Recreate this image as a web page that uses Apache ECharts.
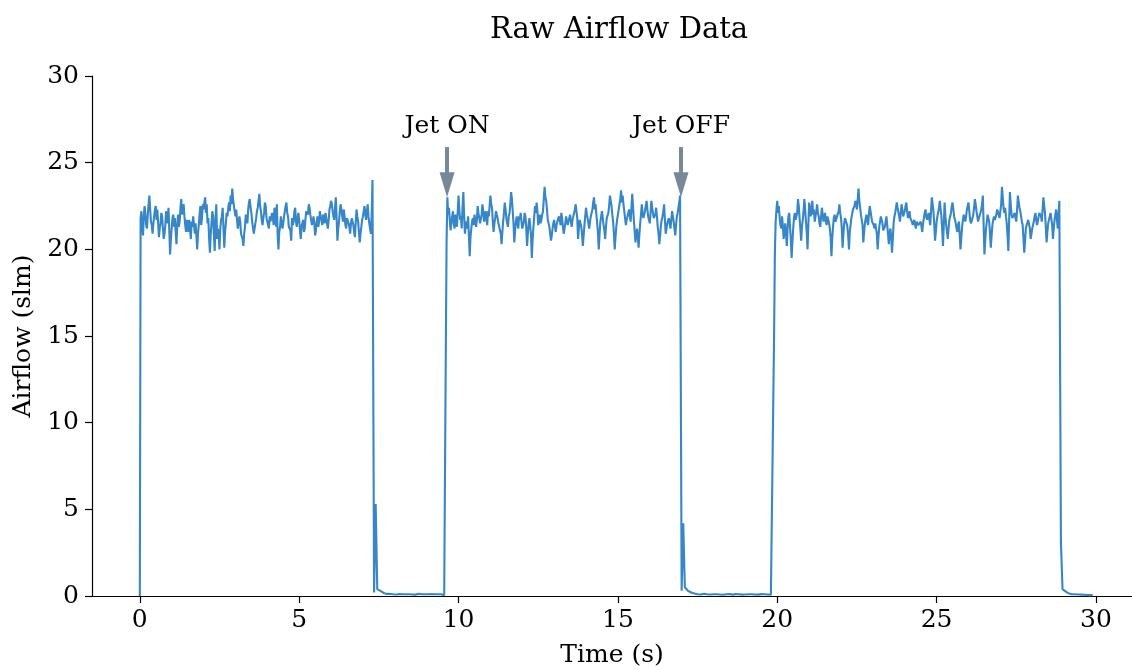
<!DOCTYPE html>
<html>
<head>
<meta charset="utf-8">
<title>Raw Airflow Data</title>
<script src="https://cdn.jsdelivr.net/npm/echarts@6.0.0/dist/echarts.min.js"></script>
<style>
  html, body { margin: 0; padding: 0; background: #fff; }
  #chart { width: 1132px; height: 670px; }
</style>
</head>
<body>
<div id="chart"></div>
<script>
// logger spacing (s); the *Mid arrays hold the readings that fall half a step later
const sampleStep = 0.05;

// start time (s) of each stretch of samples
const segmentStarts = [0, 7.35, 9.6, 17.0, 19.9, 28.9];

// jet ON #1 (starts at 0 s)
const jetOn1 = [
  0, 22.2, 20.8, 22.5, 21.4, 22.0, 23.1, 21.6, 20.9, 21.9,
  22.5, 22.3, 20.7, 21.5, 21.9, 20.6, 21.4, 21.8, 22.4, 19.7,
  21.2, 22.0, 21.8, 20.3, 22.0, 21.6, 22.9, 22.4, 21.9, 21.0,
  21.5, 21.7, 20.6, 21.3, 21.8, 21.5, 20.0, 21.4, 22.5, 21.8,
  22.3, 23.0, 22.6, 21.8, 19.8, 21.5, 21.9, 19.9, 22.6, 21.2,
  20.0, 21.7, 22.4, 20.1, 21.5, 21.9, 22.7, 23.1, 23.5, 22.8,
  21.9, 21.7, 21.1, 21.6, 21.0, 20.2, 21.3, 21.8, 22.3, 22.9,
  22.1, 21.5, 21.0, 21.8, 22.4, 23.2, 22.2, 21.4, 22.1, 22.5,
  21.9, 21.2, 21.6, 22.1, 21.4, 22.0, 22.6, 20.0, 21.3, 21.8,
  21.5, 22.2, 22.7, 21.9, 21.2, 20.5, 21.4, 22.2, 21.6, 21.8,
  21.7, 20.6, 21.5, 21.0, 21.8, 22.3, 22.6, 22.0, 21.4, 21.9,
  20.8, 21.6, 21.3, 22.2, 21.7, 22.0, 21.5, 21.8, 21.2, 22.3,
  22.8, 22.2, 21.7, 23.0, 20.5, 21.6, 22.6, 21.9, 22.3, 21.4,
  21.8, 21.5, 20.9, 21.8, 21.4, 20.7, 22.3, 21.6, 20.4, 21.3,
  21.9, 22.5, 21.7, 22.6, 21.5, 20.9, 24.0
];
const jetOn1Mid = [
  21.8, 21.3, 21.9, 22.0, 21.2, 22.6, 22.3, 21.4, 21.5, 22.3,
  21.7, 21.5, 21.2, 22.1, 21.2, 20.9, 22.2, 21.5, 21.1, 20.6,
  21.8, 21.3, 21.0, 21.4, 21.3, 22.4, 22.0, 22.6, 21.4, 21.7,
  21.0, 21.2, 21.6, 21.9, 20.9, 20.8, 20.9, 22.0, 21.4, 22.6,
  22.7, 22.1, 21.5, 20.6, 20.9, 22.2, 20.8, 21.8, 20.6, 20.8,
  21.2, 21.9, 21.2, 21.0, 22.1, 22.4, 22.2, 22.6, 22.9, 22.2,
  22.3, 21.2, 21.9, 20.9, 20.6, 20.9, 22.0, 21.5, 22.7, 22.4,
  21.6, 20.9, 21.5, 22.2, 22.8, 22.5, 21.7, 21.8, 22.7, 21.8,
  21.4, 21.9, 21.6, 21.8, 22.4, 21.3, 20.8, 21.0, 21.9, 21.2,
  21.9, 22.5, 22.1, 21.3, 21.1, 21.8, 21.6, 22.4, 21.3, 22.1,
  21.1, 21.3, 21.7, 21.2, 22.2, 22.0, 22.4, 21.7, 21.3, 21.5,
  21.1, 21.9, 21.6, 21.9, 21.4, 21.8, 22.1, 21.5, 21.7, 22.5,
  22.6, 21.9, 22.4, 21.8, 21.2, 22.2, 22.3, 21.6, 21.9, 21.2,
  21.9, 21.3, 21.5, 21.9, 21.0, 21.6, 21.9, 21.0, 20.9, 21.7,
  22.2, 22.0, 22.2, 21.9, 21.2, 22.0
];

// jet OFF #1
const jetOff1 = [
  0.2, 5.3, 0.4, 0.35, 0.3, 0.22, 0.18, 0.15, 0.12, 0.1,
  0.12, 0.08, 0.1, 0.14, 0.09, 0.1, 0.12, 0.08, 0.1, 0.13,
  0.1, 0.07, 0.1, 0.12, 0.09, 0.1, 0.08, 0.11, 0.13, 0.09,
  0.1, 0.08, 0.1, 0.12, 0.1, 0.09, 0.11, 0.08, 0.1, 0.12,
  0.1, 0.09, 0.1, 0.08, 0.05
];

// jet ON #2
const jetOn2 = [
  14.0, 23.0, 22.4, 21.1, 21.9, 21.5, 22.0, 21.3, 23.1, 21.7,
  21.2, 23.3, 20.9, 21.6, 21.9, 19.6, 21.2, 21.8, 22.0, 21.3,
  22.5, 21.8, 21.4, 22.6, 21.6, 22.2, 21.4, 21.9, 23.1, 22.4,
  21.0, 21.8, 22.3, 21.5, 21.1, 20.3, 21.6, 22.7, 21.8, 21.3,
  22.1, 23.3, 22.8, 20.4, 21.6, 21.5, 21.9, 22.1, 21.2, 21.6,
  21.9, 20.2, 21.5, 21.9, 19.5, 21.3, 22.5, 22.7, 21.4, 22.0,
  21.7, 22.2, 23.6, 22.8, 21.7, 21.3, 20.5, 21.2, 21.7, 21.0,
  21.6, 21.9, 21.4, 21.8, 20.9, 21.5, 21.8, 21.6, 22.0, 21.3,
  21.9, 22.3, 22.7, 20.6, 21.7, 21.3, 20.2, 21.4, 22.4, 21.8,
  21.2, 21.9, 22.3, 23.0, 22.6, 21.5, 20.0, 21.6, 22.2, 21.4,
  20.6, 21.8, 22.1, 23.1, 22.5, 21.6, 20.0, 21.3, 22.0, 22.6,
  23.4, 23.1, 22.2, 21.4, 21.9, 22.3, 21.6, 23.2, 21.7, 20.4,
  21.2, 20.1, 21.5, 22.6, 21.8, 22.2, 22.8, 21.9, 21.5, 22.8,
  22.1, 21.7, 22.4, 21.3, 20.3, 21.4, 21.9, 22.6, 20.9, 21.5,
  21.8, 21.2, 22.2, 21.6, 20.8, 21.9, 22.4, 23.1
];
const jetOn2Mid = [
  20.5, 22.0, 21.7, 21.5, 22.2, 21.2, 21.8, 22.2, 22.3, 21.9,
  22.4, 22.0, 21.4, 21.2, 20.8, 20.7, 21.6, 21.4, 21.9, 21.7,
  22.1, 21.5, 22.0, 22.2, 21.8, 21.7, 22.2, 22.5, 22.6, 21.6,
  21.5, 22.2, 21.8, 21.3, 20.9, 21.0, 22.1, 22.3, 21.5, 21.9,
  22.6, 22.9, 21.5, 21.1, 21.9, 21.2, 21.7, 21.6, 21.4, 22.1,
  21.2, 20.9, 21.8, 20.8, 20.6, 21.9, 22.1, 22.2, 21.7, 21.5,
  22.0, 22.9, 23.0, 22.3, 21.8, 20.9, 20.8, 21.5, 21.3, 21.4,
  21.5, 21.7, 22.1, 21.3, 21.2, 21.9, 21.4, 21.8, 21.6, 21.7,
  22.0, 22.6, 21.8, 21.2, 21.5, 20.9, 20.8, 21.9, 22.0, 21.5,
  21.6, 22.1, 22.7, 22.3, 22.0, 20.9, 20.9, 21.9, 21.8, 21.1,
  21.3, 21.9, 22.5, 22.8, 22.0, 20.9, 20.7, 21.7, 22.3, 22.9,
  22.7, 22.6, 21.8, 21.7, 22.0, 21.9, 22.4, 22.5, 21.1, 20.8,
  20.7, 20.9, 22.0, 22.1, 21.9, 22.5, 22.3, 21.7, 22.1, 22.4,
  21.8, 22.0, 21.9, 20.9, 20.8, 21.7, 22.2, 21.7, 21.2, 21.6,
  21.5, 21.7, 21.9, 21.2, 21.4, 22.1, 22.7
];

// jet OFF #2
const jetOff2 = [
  0.3, 4.2, 0.5, 0.4, 0.3, 0.25, 0.2, 0.16, 0.14, 0.12,
  0.1, 0.12, 0.09, 0.1, 0.13, 0.08, 0.1, 0.11, 0.09, 0.12,
  0.1, 0.08, 0.1, 0.13, 0.09, 0.1, 0.07, 0.11, 0.1, 0.09,
  0.12, 0.1, 0.08, 0.1, 0.11, 0.09, 0.1, 0.12, 0.08, 0.1,
  0.09, 0.11, 0.1, 0.08, 0.1, 0.12, 0.09, 0.1, 0.08, 0.1,
  0.11, 0.09, 0.1, 0.08, 0.09, 0.1, 0.07, 0.05
];

// jet ON #3
const jetOn3 = [
  15.0, 21.6, 22.8, 22.5, 21.4, 21.9, 20.6, 21.5, 20.2, 21.9,
  21.3, 19.5, 21.2, 22.1, 21.6, 22.9, 21.8, 20.5, 21.7, 22.9,
  21.6, 20.0, 22.7, 21.9, 22.8, 22.3, 21.7, 22.6, 21.9, 21.3,
  22.4, 21.6, 22.1, 21.4, 22.0, 21.2, 19.6, 21.3, 22.0, 21.5,
  21.9, 22.6, 21.8, 20.1, 21.5, 21.9, 21.3, 20.0, 21.4, 21.9,
  22.2, 22.8, 22.3, 23.5, 22.4, 21.9, 20.4, 21.5, 22.0, 21.4,
  22.5, 21.9, 21.7, 21.2, 21.6, 20.0, 21.3, 21.9, 21.5, 21.0,
  21.6, 21.4, 20.3, 21.2, 19.8, 21.5, 22.1, 22.7, 22.3, 21.6,
  22.6, 21.9, 22.2, 22.7, 21.8, 22.2, 21.7, 21.4, 21.7, 21.2,
  21.5, 21.3, 21.6, 21.0, 21.8, 22.3, 21.7, 22.1, 21.4, 23.0,
  22.2, 20.5, 21.6, 22.0, 22.8, 21.9, 20.2, 22.7, 21.4, 20.6,
  21.7, 22.1, 22.7, 21.9, 21.5, 21.0, 21.6, 20.0, 21.3, 22.0,
  21.6, 22.3, 22.7, 21.7, 21.4, 22.0, 22.9, 22.2, 21.6, 21.9,
  22.3, 23.1, 19.7, 21.2, 22.0, 21.6, 20.1, 21.4, 21.9, 21.6,
  22.3, 22.0, 21.7, 23.6, 22.4, 22.4, 21.5, 19.9, 23.3, 22.0,
  21.7, 22.1, 21.6, 23.1, 22.4, 21.9, 21.4, 19.8, 21.2, 21.5,
  21.8, 20.6, 21.2, 21.6, 22.1, 21.4, 21.9, 22.2, 21.6, 23.0,
  22.1, 20.4, 21.5, 21.9, 22.2, 20.6, 21.7, 22.3, 21.2, 22.8
];
const jetOn3Mid = [
  19.8, 22.3, 22.1, 21.8, 21.2, 21.4, 21.0, 20.9, 21.2, 22.1,
  20.6, 20.4, 21.8, 21.7, 22.1, 22.5, 21.2, 21.3, 22.2, 22.3,
  21.0, 21.4, 22.2, 22.4, 22.0, 21.6, 22.2, 22.1, 21.5, 21.9,
  22.0, 21.7, 21.6, 21.9, 21.5, 20.7, 20.6, 21.8, 21.6, 21.9,
  22.2, 22.1, 21.2, 20.9, 21.8, 21.5, 20.8, 21.0, 21.8, 22.3,
  22.5, 22.6, 22.9, 22.8, 22.0, 21.4, 21.0, 21.8, 21.6, 22.0,
  22.2, 21.6, 21.4, 21.5, 20.9, 20.7, 21.6, 21.7, 21.1, 21.3,
  21.9, 20.9, 20.9, 20.7, 20.6, 21.9, 22.4, 22.4, 21.9, 22.1,
  22.3, 22.0, 22.5, 22.2, 21.9, 21.8, 21.6, 21.5, 21.4, 21.6,
  21.4, 21.5, 21.3, 21.5, 22.1, 21.9, 21.8, 21.7, 22.2, 22.6,
  21.5, 21.0, 21.9, 22.4, 22.3, 21.1, 21.4, 21.9, 21.0, 21.2,
  21.9, 22.5, 22.3, 21.7, 21.2, 21.4, 20.8, 20.7, 21.7, 21.8,
  21.9, 22.5, 22.2, 21.5, 21.8, 22.4, 22.6, 21.9, 21.8, 22.1,
  22.6, 21.4, 20.5, 21.6, 21.8, 20.9, 20.8, 21.7, 21.7, 22.0,
  22.2, 21.8, 22.6, 23.0, 22.1, 21.9, 20.8, 21.6, 22.6, 21.8,
  21.9, 21.8, 22.3, 22.7, 22.2, 21.6, 20.6, 20.5, 21.4, 21.7,
  21.2, 20.9, 21.4, 21.9, 21.7, 21.6, 22.1, 21.9, 22.3, 22.5,
  21.3, 21.0, 21.7, 22.1, 21.4, 21.2, 22.0, 21.7, 22.0
];

// jet OFF #3 (tail)
const jetOff3 = [
  3.1, 0.4, 0.3, 0.25, 0.2, 0.15, 0.12, 0.1, 0.08, 0.1,
  0.07, 0.09, 0.06, 0.08, 0.05, 0.07, 0.06, 0.05, 0.07, 0.05,
  0.04
];

const xTicks = [0, 5, 10, 15, 20, 25, 30];
const annotationTimes = [9.64, 16.98];
const annotationTexts = ['Jet ON', 'Jet OFF'];

const segments = [
  [jetOn1, jetOn1Mid],
  [jetOff1, []],
  [jetOn2, jetOn2Mid],
  [jetOff2, []],
  [jetOn3, jetOn3Mid],
  [jetOff3, []],
];
const airflow = [];
const round3 = (x) => Math.round(x * 1000) / 1000;
segments.forEach(([main, mid], s) => {
  main.forEach((v, j) => {
    airflow.push([round3(segmentStarts[s] + j * sampleStep), v]);
    if (j < mid.length && j < main.length - 1) {
      airflow.push([round3(segmentStarts[s] + (j + 0.5) * sampleStep), mid[j]]);
    }
  });
});

const font = '"DejaVu Serif", "Liberation Serif", serif';
const ink = '#000';
const arrowColor = '#778899';

const chart = echarts.init(document.getElementById('chart'), null, { renderer: 'canvas' });

const option = {
  animation: false,
  backgroundColor: '#fff',
  title: {
    text: 'Raw Airflow Data',
    left: 614,
    textAlign: 'center',
    top: 11,
    textStyle: { fontFamily: font, fontSize: 29, fontWeight: 'normal', color: ink },
  },
  grid: {
    left: 92,
    right: 0,
    top: 76,
    bottom: 74,
    containLabel: false,
    outerBoundsMode: 'none',
  },
  xAxis: {
    type: 'value',
    min: -1.5,
    max: 31.13,
    name: 'Time (s)',
    nameLocation: 'middle',
    nameGap: 47,
    nameTextStyle: { fontFamily: font, fontSize: 25, color: ink },
    axisLine: { show: true, onZero: false, lineStyle: { color: ink, width: 1.2 } },
    axisTick: { show: true, length: 7, customValues: xTicks, lineStyle: { color: ink, width: 1.2 } },
    axisLabel: {
      customValues: xTicks,
      margin: 12,
      fontFamily: font,
      fontSize: 25,
      color: ink,
    },
    splitLine: { show: false },
  },
  yAxis: {
    type: 'value',
    min: 0,
    max: 30,
    interval: 5,
    name: 'Airflow (slm)',
    nameLocation: 'middle',
    nameGap: 52,
    nameTextStyle: { fontFamily: font, fontSize: 25, color: ink },
    axisLine: { show: true, onZero: false, lineStyle: { color: ink, width: 1.2 } },
    axisTick: { show: true, length: 7, lineStyle: { color: ink, width: 1.2 } },
    axisLabel: { margin: 13, fontFamily: font, fontSize: 25, color: ink },
    splitLine: { show: false },
  },
  series: [
    {
      name: 'Airflow',
      type: 'line',
      data: airflow,
      showSymbol: false,
      sampling: false,
      lineStyle: { color: '#3686c8', width: 2.1, join: 'bevel' },
      itemStyle: { color: '#3686c8' },
      z: 3,
      markLine: {
        silent: true,
        symbol: ['none', 'triangle'],
        symbolSize: [15, 25],
        lineStyle: { color: arrowColor, width: 4, type: 'solid' },
        label: { show: false },
        data: annotationTimes.map((t) => [
          { coord: [t, 25.9] },
          { coord: [t, 23.72] },
        ]),
      },
    },
    {
      name: 'Notes',
      type: 'scatter',
      symbolSize: 0,
      silent: true,
      itemStyle: { opacity: 1 },
      data: annotationTimes.map((t, i) => ({
        value: [t, 27.1],
        label: { formatter: annotationTexts[i], color: ink },
      })),
      label: {
        show: true,
        position: 'inside',
        fontFamily: font,
        fontSize: 25,
        color: ink,
        textBorderWidth: 0,
      },
    },
  ],
};

chart.setOption(option);
window.addEventListener('resize', () => {
  chart.resize();
});
</script>
</body>
</html>
